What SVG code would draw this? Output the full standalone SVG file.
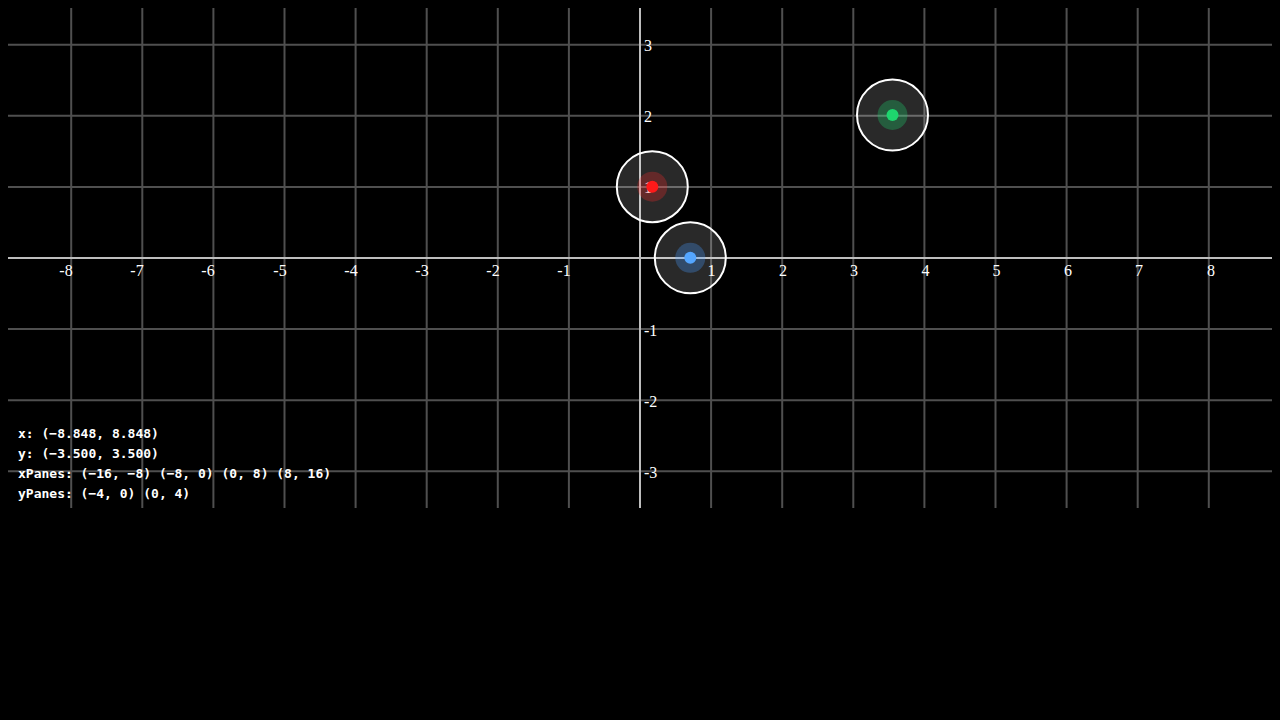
<svg xmlns="http://www.w3.org/2000/svg" width="1280" height="720" viewBox="0 0 1280 720">
<style>
.grid line{stroke:#4f4f4f;stroke-width:2}
.axis line{stroke:#bdbdbd;stroke-width:2}
.lbl{font-family:"Liberation Serif","DejaVu Serif",serif;font-size:16px;fill:#ffffff}
.xl{text-anchor:middle}
.info{font-family:"DejaVu Sans Mono","Liberation Mono",monospace;font-size:13px;font-weight:bold;fill:#ffffff}
.ring{fill:#ffffff;fill-opacity:0.16;stroke:#ffffff;stroke-width:2}
</style>
<rect width="1280" height="720" fill="#000000"/>
<g class="grid">
<line x1="71.2" y1="8" x2="71.2" y2="508"/>
<line x1="142.3" y1="8" x2="142.3" y2="508"/>
<line x1="213.4" y1="8" x2="213.4" y2="508"/>
<line x1="284.5" y1="8" x2="284.5" y2="508"/>
<line x1="355.6" y1="8" x2="355.6" y2="508"/>
<line x1="426.7" y1="8" x2="426.7" y2="508"/>
<line x1="497.8" y1="8" x2="497.8" y2="508"/>
<line x1="568.9" y1="8" x2="568.9" y2="508"/>
<line x1="711.1" y1="8" x2="711.1" y2="508"/>
<line x1="782.2" y1="8" x2="782.2" y2="508"/>
<line x1="853.3" y1="8" x2="853.3" y2="508"/>
<line x1="924.4" y1="8" x2="924.4" y2="508"/>
<line x1="995.5" y1="8" x2="995.5" y2="508"/>
<line x1="1066.6" y1="8" x2="1066.6" y2="508"/>
<line x1="1137.7" y1="8" x2="1137.7" y2="508"/>
<line x1="1208.8" y1="8" x2="1208.8" y2="508"/>
<line x1="8" y1="44.7" x2="1272" y2="44.7"/>
<line x1="8" y1="115.8" x2="1272" y2="115.8"/>
<line x1="8" y1="186.9" x2="1272" y2="186.9"/>
<line x1="8" y1="329.1" x2="1272" y2="329.1"/>
<line x1="8" y1="400.2" x2="1272" y2="400.2"/>
<line x1="8" y1="471.3" x2="1272" y2="471.3"/>
</g>
<g class="axis">
<line x1="8" y1="258" x2="1272" y2="258"/>
<line x1="640" y1="8" x2="640" y2="508"/>
</g>
<g id="x-labels">
<text class="lbl xl" x="66" y="276">-8</text>
<text class="lbl xl" x="137" y="276">-7</text>
<text class="lbl xl" x="208" y="276">-6</text>
<text class="lbl xl" x="280" y="276">-5</text>
<text class="lbl xl" x="351" y="276">-4</text>
<text class="lbl xl" x="422" y="276">-3</text>
<text class="lbl xl" x="493" y="276">-2</text>
<text class="lbl xl" x="564" y="276">-1</text>
<text class="lbl xl" x="711.5" y="276">1</text>
<text class="lbl xl" x="783" y="276">2</text>
<text class="lbl xl" x="854" y="276">3</text>
<text class="lbl xl" x="925.5" y="276">4</text>
<text class="lbl xl" x="996.5" y="276">5</text>
<text class="lbl xl" x="1068" y="276">6</text>
<text class="lbl xl" x="1139" y="276">7</text>
<text class="lbl xl" x="1211" y="276">8</text>
</g>
<g id="y-labels">
<text class="lbl" x="644" y="51">3</text>
<text class="lbl" x="644" y="122">2</text>
<text class="lbl" x="644" y="193">1</text>
<text class="lbl" x="644" y="336">-1</text>
<text class="lbl" x="644" y="407">-2</text>
<text class="lbl" x="644" y="478">-3</text>
</g>
<g id="node-red">
<circle class="ring" cx="652.3" cy="186.7" r="35.5"/>
<circle cx="652.3" cy="186.7" r="15" fill="#ff2a2a" fill-opacity="0.28"/>
<circle cx="652.3" cy="186.7" r="6" fill="#ff1a1a"/>
</g>
<g id="node-blue">
<circle class="ring" cx="690.3" cy="257.8" r="35.5"/>
<circle cx="690.3" cy="257.8" r="15" fill="#4a9dff" fill-opacity="0.3"/>
<circle cx="690.3" cy="257.8" r="6" fill="#54a6ff"/>
</g>
<g id="node-green">
<circle class="ring" cx="892.5" cy="115" r="35.5"/>
<circle cx="892.5" cy="115" r="15" fill="#1fd66f" fill-opacity="0.3"/>
<circle cx="892.5" cy="115" r="6" fill="#1ed66e"/>
</g>
<g id="info">
<text class="info" x="18" y="438">x: (−8.848, 8.848)</text>
<text class="info" x="18" y="458">y: (−3.500, 3.500)</text>
<text class="info" x="18" y="478">xPanes: (−16, −8) (−8, 0) (0, 8) (8, 16)</text>
<text class="info" x="18" y="498">yPanes: (−4, 0) (0, 4)</text>
</g>
</svg>
